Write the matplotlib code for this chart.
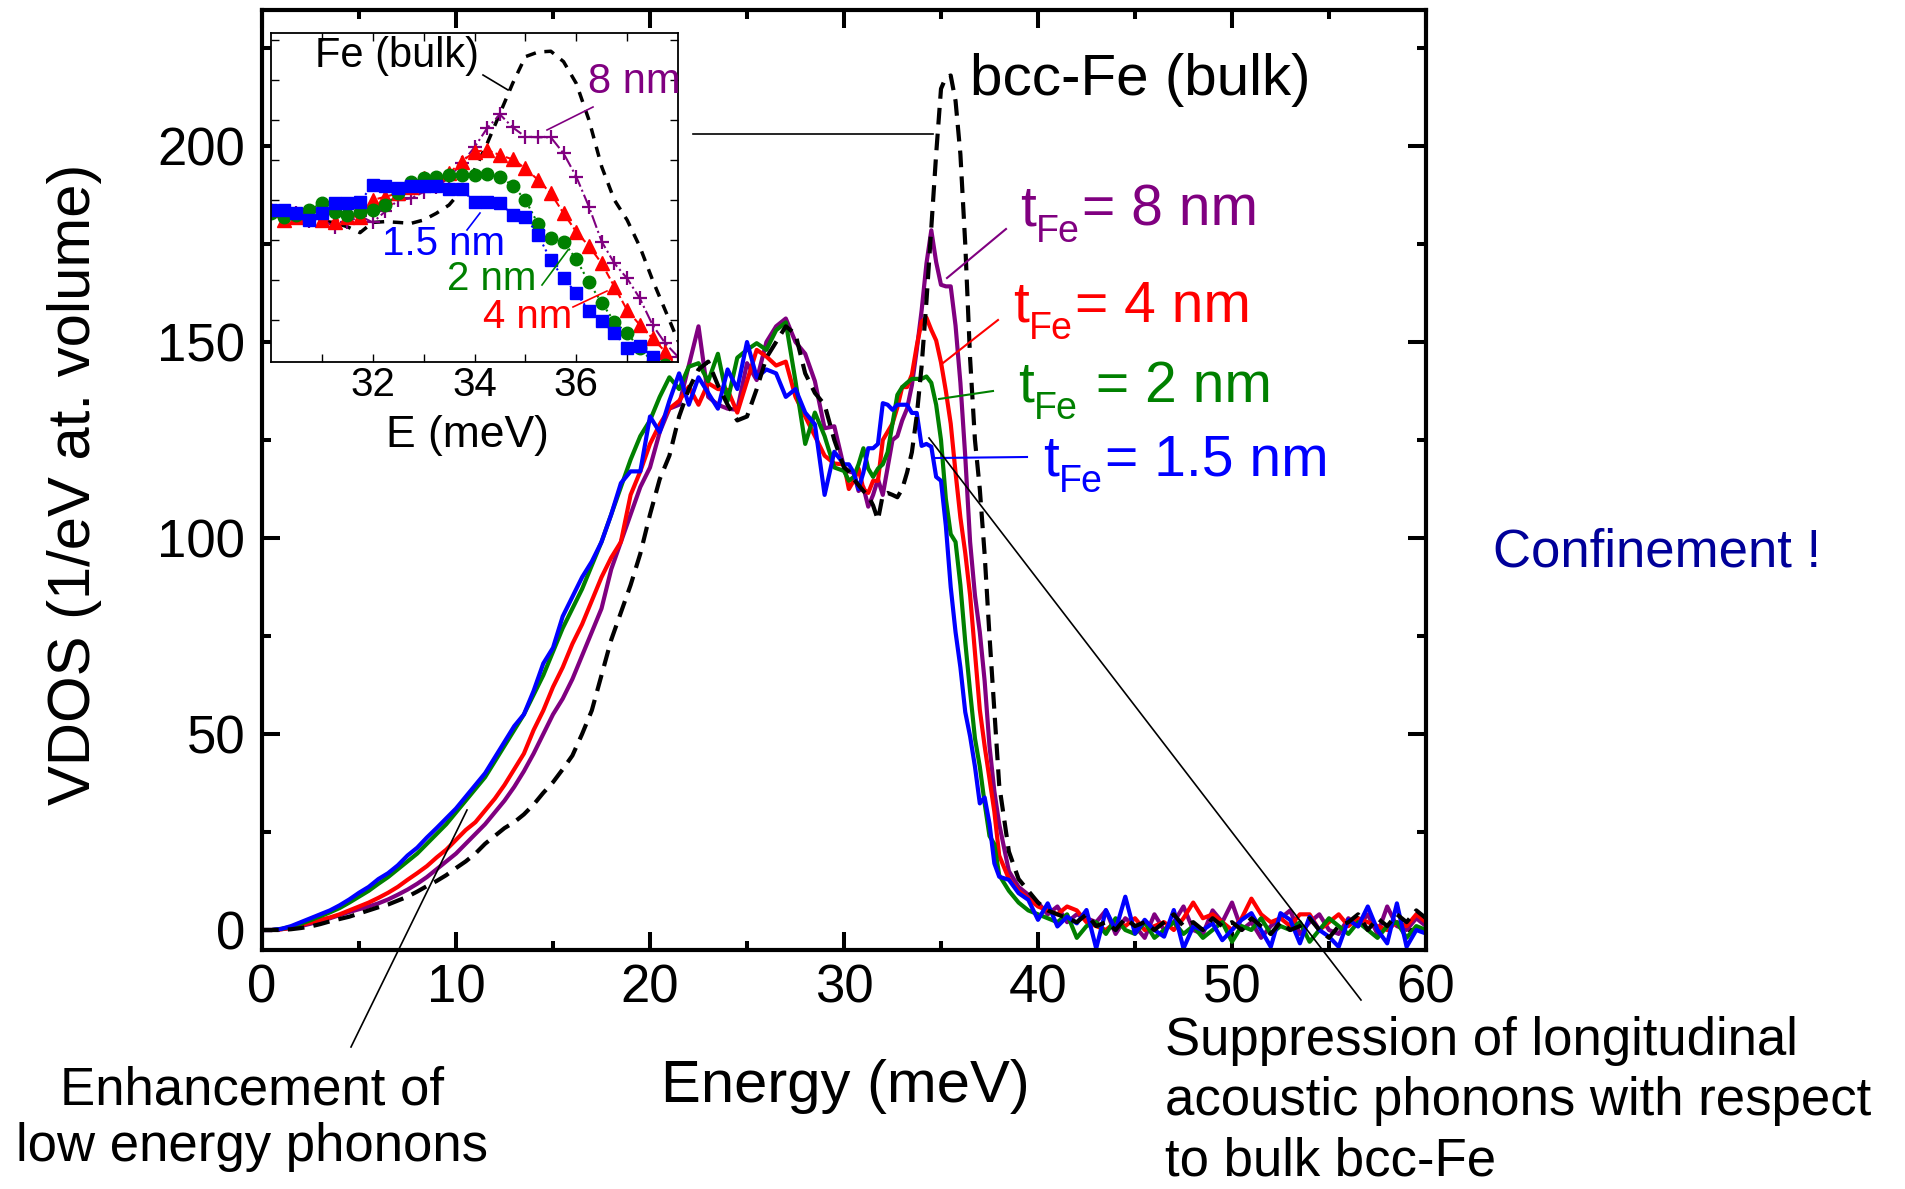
import numpy as np
import matplotlib
matplotlib.use("Agg")
import matplotlib.pyplot as plt
from matplotlib.lines import Line2D

plt.rcParams['font.family'] = ['Liberation Sans', 'DejaVu Sans']

# Energy grid (meV): 0.5 meV steps, 0.25 meV steps across the LA peak region
energy = np.concatenate([np.arange(0.0, 30.0, 0.5),
                         np.arange(30.0, 38.0, 0.25),
                         np.arange(38.0, 60.01, 0.5)])

# VDOS (1/eV at. volume)
vdos_bulk = [
    0, 0, 0, 0.2, 0.5, 0.9, 1.5, 2.2, 2.8, 3.4,
    4.2, 5, 5.8, 6.5, 7.5, 8.5, 9.8, 11.2, 12.5, 14,
    15.8, 17.5, 19.5, 22, 24, 26, 27.5, 29.5, 32, 35,
    37.7, 41, 44.5, 50, 56, 65, 74, 81, 88, 96,
    106, 115, 121, 131, 138, 143, 145, 139, 134, 130,
    131, 138, 146, 150, 154, 152, 142, 137, 134, 125,
    118, 117, 115, 113.5, 112, 110.8, 108.3, 104.6, 111, 111.5,
    111, 110.4, 112.5, 116.7, 121.9, 131.2, 143.8, 160.4, 179.2, 197.9,
    214.6, 217.5, 218, 211.5, 197.9, 175, 145.8, 125, 112.5, 95.8,
    75, 56,
    37, 20, 13, 10, 7, 5, 4, 3, 2, 4,
    1, 2, 0, 3, 1, 2, 0, 2, 4, 1,
    2, 0, 3, 1, 2, 0, 3, 1, -1, 2,
    0, 1, 3, 0, -2, 1, 2, 4, 0, 3,
    1, 4, 2, 5, 3]

vdos_8nm = [
    0, 0, 0.2, 0.5, 1, 1.6, 2.3, 3, 3.8, 4.6,
    5.3, 6, 6.8, 7.8, 9, 10.3, 11.8, 13.5, 15.5, 17.5,
    19.5, 22, 24.5, 27, 30, 33, 36.5, 40.5, 45, 50,
    55, 59, 64, 70, 76, 82, 92, 99, 106, 113,
    118, 127, 133, 134, 144, 154, 136, 134, 133, 132.7,
    144.6, 140.3, 150, 154, 156, 150, 147, 140, 128, 128.5,
    118, 117, 116.6, 112, 113, 108, 111, 115, 111, 118,
    125, 126, 130, 133, 139, 148, 158, 170, 178.5, 170.4,
    164.6, 164.2, 164.2, 154.2, 139.6, 120.8, 99, 85.4, 76, 63.5,
    46.9, 35.4,
    27, 15, 11, 9, 7, 4, 6, 2, 4, 3,
    2, 5, -1, 3, 1, -2, 4, 0, 2, 6,
    0, -1, 5, 2, 7, 0, 2, -2, 1, 3,
    5, -1, 2, 4, 0, -1, 3, 1, 4, -1,
    6, 1, 0, 3, 1]

vdos_4nm = [
    0, 0, 0.2, 0.6, 1.2, 1.9, 2.6, 3.2, 4, 5,
    6, 7, 8.2, 9.5, 11, 12.8, 14.5, 16.3, 18.5, 20.5,
    23, 25.5, 27.5, 30.5, 33.5, 37, 41, 45, 51, 56,
    62, 67, 73, 78, 84, 90, 95, 99, 111, 117,
    124, 129, 133, 135, 138.6, 134, 139.5, 138, 137.8, 132,
    140, 148, 146.3, 144, 145, 136, 131, 126, 121, 119,
    118.8, 112.5, 114.6, 117.7, 112.5, 111.5, 114.6, 114.6, 125, 127.1,
    129.2, 133.3, 138.5, 138.5, 141.7, 149, 155.2, 156.2, 153.1, 150.4,
    144.8, 137.5, 129.2, 116.7, 105.2, 96.2, 85.4, 70.8, 56.2, 46.9,
    38.5, 30.2,
    19, 13, 10, 8, 6, 5, 4, 6, 5, 2,
    1, 0, 2, 1, 3, 0, 1, 2, 0, 3,
    7, 3, 4, 2, 0, 3, 8, 4, 2, 3,
    1, 4, 4, 0, 2, 4, 1, 3, 2, 1,
    0, 2, 1, 4, 2]

vdos_2nm = [
    0, 0, 0.3, 0.8, 1.6, 2.5, 3.5, 4.5, 5.6, 7,
    8.5, 10, 11.8, 13.5, 15.5, 17.5, 19.5, 22, 24.5, 27,
    30, 33, 36, 39, 43, 47, 51, 55, 60, 65,
    71, 77, 82, 87, 93, 99, 106, 113, 120, 126,
    130, 136, 141, 138, 143.7, 144.6, 140, 147, 135, 146,
    148, 149.7, 148, 153, 155, 140, 124, 132, 126, 118,
    117.1, 114.6, 115.6, 118.8, 122.9, 117.7, 115.6, 117.7, 118.8, 121.9,
    129.2, 136.5, 138.5, 139.6, 140.6, 140.6, 140.6, 141.2, 139.6, 134,
    125, 110, 101, 99, 88, 73.5, 60.8, 48.9, 41.7, 32.3,
    24, 21.9,
    14, 10, 7, 5, 4, 3, 2, 4, -2, 1,
    2, -1, 3, 0, -1, 2, -2, 0, 2, -1,
    1, -2, 0, 2, -3, 1, 0, 3, -1, 1,
    0, 2, -3, 0, 3, 1, -1, 2, 0, -2,
    1, 2, -2, 1, 0]

vdos_1p5nm = [
    0, 0, 0.3, 1, 2, 3, 4, 5, 6.3, 7.8,
    9.5, 11, 13, 14.5, 16.5, 19, 21, 23.6, 26, 28.5,
    31, 34, 37, 40, 44, 48, 52, 55, 61, 68,
    72, 80, 85, 90, 94, 99, 106, 114, 117, 117,
    131, 127, 135, 142, 134, 141, 137, 133, 143, 138,
    150, 141, 143, 142, 136, 138, 132, 129, 111, 122,
    118.8, 118.8, 116.7, 112.5, 116.7, 122.9, 122.9, 124.0, 134.4, 134.0,
    132.7, 134.0, 134.0, 134.0, 131.9, 131.9, 123.5, 124.0, 123.3, 115.6,
    114.6, 103.1, 87.5, 76.0, 67.0, 55.6, 49.4, 41.7, 32.3, 33.8,
    27.1, 17,
    13.6, 12.8, 9.4, 7.7, 2.6, 6.8, 0.9, 3.4, 1.7, 5.1,
    -4.7, 5.1, 0, 8.5, -0.9, 2.6, 0, -1.7, 5.1, -4.7,
    0.9, 0, 1.7, -2.6, 0, 2.6, 4.3, 0, -4.3, 4.3,
    2.6, -3.4, 3.4, 0, -1.7, -4.3, 2.6, 0.9, 6, 0,
    -3.4, 6.8, -4.3, 0, -0.9]

main_xticks = [0, 10, 20, 30, 40, 50, 60]
main_yticks = [0, 50, 100, 150, 200]
inset_xticks = [32, 34, 36]

PURPLE, RED, GREEN, BLUE = '#800080', '#ff0000', '#008000', '#0000ff'
NAVY = '#000099'

W, H = 1906, 1189
fig = plt.figure(figsize=(W / 100, H / 100), dpi=100)


def fp(x, y):
    """pixel position -> figure fraction"""
    return x / W, 1 - y / H


def seg(p0, p1, color='black', lw=1.2):
    (x0, y0), (x1, y1) = fp(*p0), fp(*p1)
    fig.add_artist(Line2D([x0, x1], [y0, y1], color=color, lw=lw,
                          transform=fig.transFigure, zorder=5))


def tfe_label(x, y, rest, color):
    """'t' with a subscript 'Fe', followed by the thickness text"""
    fig.text(*fp(x, y), 't', fontsize=41, color=color, va='baseline')
    fig.text(*fp(x + 16, y + 17), 'Fe', fontsize=27, color=color, va='baseline')
    fig.text(*fp(x + 62, y), rest, fontsize=41, color=color, va='baseline')


# ---- main panel ----
ax = fig.add_axes([262 / W, 1 - 950 / H, (1426 - 262) / W, (950 - 10) / H])
ax.plot(energy, vdos_8nm, color=PURPLE, lw=3)
ax.plot(energy, vdos_4nm, color=RED, lw=3)
ax.plot(energy, vdos_2nm, color=GREEN, lw=3)
ax.plot(energy, vdos_1p5nm, color=BLUE, lw=3)
bulk_line, = ax.plot(energy, vdos_bulk, color='black', lw=3)
bulk_line.set_dashes((4, 2.2))

ax.set_xlim(0, 60)
ax.set_ylim(-5.1, 234.7)
ax.set_xticks(main_xticks)
ax.set_xticks(np.arange(5, 60, 10), minor=True)
ax.set_yticks(main_yticks)
ax.set_yticks(np.arange(25, 235, 50), minor=True)
ax.tick_params(which='both', direction='in', top=True, right=True, width=2.9)
ax.tick_params(which='major', length=13, labelsize=38)
ax.tick_params(axis='x', which='major', pad=10)
ax.tick_params(axis='y', which='major', pad=12)
ax.tick_params(which='minor', length=6.5)
for s in ax.spines.values():
    s.set_linewidth(3)

fig.text(*fp(75, 484), 'VDOS (1/eV at. volume)', rotation=90, fontsize=43,
         ha='center', va='center')
fig.text(*fp(845, 1086), 'Energy (meV)', fontsize=43, ha='center', va='center')

# ---- inset: zoom on the longitudinal peak ----
axin = fig.add_axes([271 / W, 1 - 362 / H, 407 / W, 329 / H])
bl, = axin.plot(energy, vdos_bulk, color='black', lw=2.5)
bl.set_dashes((3, 2.5))
axin.plot(energy, vdos_8nm, color=PURPLE, ls='-.', lw=1.5, marker='+',
          ms=10, mew=1.6)
axin.plot(energy, vdos_4nm, color=RED, ls='--', lw=1.5, marker='^', ms=10)
axin.plot(energy, vdos_2nm, color=GREEN, ls=':', lw=1.5, marker='o', ms=9)
axin.plot(energy, vdos_1p5nm, color=BLUE, ls=':', lw=1.5, marker='s', ms=8.5)
axin.set_xlim(30, 38)
axin.set_ylim(23.75, 229.4)
axin.set_xticks(inset_xticks)
axin.set_xticks([31, 33, 35, 37], minor=True)
axin.set_yticks(np.arange(50, 230, 25))
axin.set_yticklabels([])
axin.tick_params(which='both', direction='in', top=True, right=True,
                 length=6, width=1, labelsize=29, pad=3)
for s in axin.spines.values():
    s.set_linewidth(1.3)
fig.text(*fp(467, 435), 'E (meV)', fontsize=32, ha='center', va='center')

fig.text(*fp(315, 67), 'Fe (bulk)', fontsize=30, va='baseline')
fig.text(*fp(588, 93), '8 nm', fontsize=30, color=PURPLE, va='baseline')
fig.text(*fp(382, 255), '1.5 nm', fontsize=29, color=BLUE, va='baseline')
fig.text(*fp(447, 290), '2 nm', fontsize=29, color=GREEN, va='baseline')
fig.text(*fp(483, 328), '4 nm', fontsize=29, color=RED, va='baseline')
seg((483, 75), (508, 90))
seg((547, 130), (593, 107), PURPLE)
seg((467, 230), (480, 213), BLUE)
seg((542, 285), (568, 250), GREEN)
seg((573, 307), (607, 291), RED)

# ---- main-panel labels ----
fig.text(*fp(970, 95), 'bcc-Fe (bulk)', fontsize=42, va='baseline')
seg((693, 134), (933, 134))
tfe_label(1020, 225, '= 8 nm', PURPLE)
tfe_label(1013, 322, '= 4 nm', RED)
tfe_label(1018, 402, ' = 2 nm', GREEN)
tfe_label(1043, 475, '= 1.5 nm', BLUE)
seg((947, 278), (1006, 229), PURPLE, 1.5)
seg((943, 363), (998, 320), RED, 1.5)
seg((939, 399), (993, 391), GREEN, 1.5)
seg((936, 458), (1027, 457), BLUE, 1.5)

fig.text(*fp(1493, 553), 'Confinement !', fontsize=38, color=NAVY, va='center')

fig.text(*fp(252, 1119), 'Enhancement of\nlow energy phonons', fontsize=38,
         ha='center', va='center', multialignment='center', linespacing=1.17)
seg((467, 810), (351, 1047))

fig.text(*fp(1165, 1101),
         'Suppression of longitudinal\nacoustic phonons with respect\nto bulk bcc-Fe',
         fontsize=38, ha='left', va='center', linespacing=1.26)
seg((929, 438), (1361, 1000))

fig.savefig('out.png', dpi=100)
